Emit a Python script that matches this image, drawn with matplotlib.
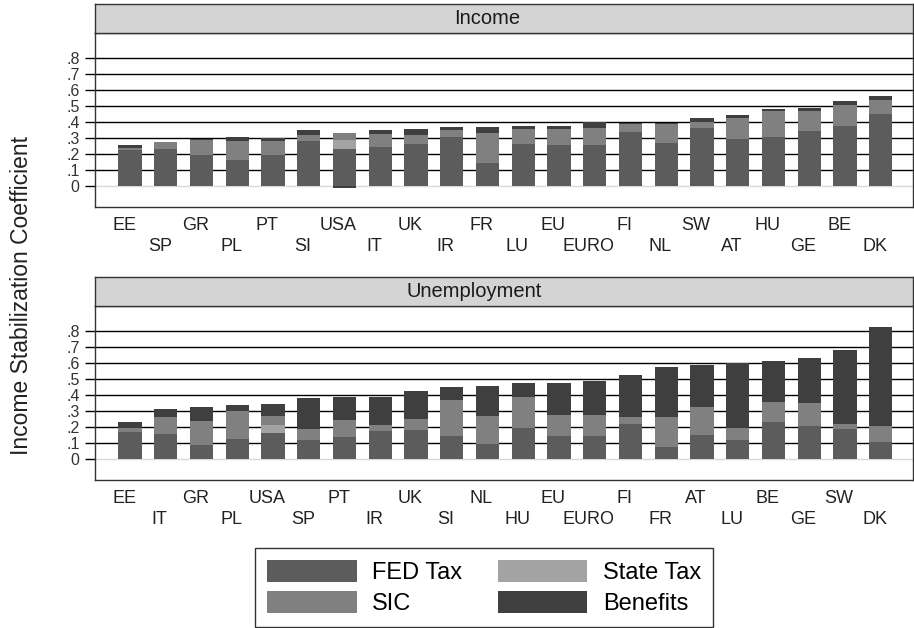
import numpy as np
import matplotlib
matplotlib.use("Agg")
import matplotlib.pyplot as plt
from matplotlib.patches import Patch
from matplotlib.transforms import ScaledTranslation

plt.rcParams['font.family'] = ['Liberation Sans', 'DejaVu Sans']

# income panel
inc_countries = ['EE', 'SP', 'GR', 'PL', 'PT', 'SI', 'USA', 'IT', 'UK', 'IR', 'FR',
                 'LU', 'EU', 'EURO', 'FI', 'NL', 'SW', 'AT', 'HU', 'GE', 'BE', 'DK']
inc_fed = [0.225, 0.231, 0.195, 0.160, 0.195, 0.281, 0.231, 0.245, 0.262, 0.306, 0.146,
           0.262, 0.254, 0.254, 0.335, 0.270, 0.362, 0.291, 0.306, 0.347, 0.376, 0.449]
inc_state = [0, 0, 0, 0, 0, 0, 0.056, 0, 0, 0, 0,
             0, 0, 0, 0, 0, 0, 0, 0, 0, 0, 0]
inc_sic = [0.015, 0.046, 0.091, 0.123, 0.087, 0.037, 0.042, 0.081, 0.056, 0.044, 0.183,
           0.096, 0.104, 0.110, 0.054, 0.119, 0.037, 0.137, 0.162, 0.119, 0.131, 0.087]
inc_ben = [0.014, 0.0, 0.010, 0.021, 0.021, 0.031, -0.014, 0.023, 0.037, 0.021, 0.042,
           0.019, 0.019, 0.033, 0.006, 0.006, 0.023, 0.015, 0.012, 0.021, 0.023, 0.029]

# unemployment panel
une_countries = ['EE', 'IT', 'GR', 'PL', 'USA', 'SP', 'PT', 'IR', 'UK', 'SI', 'NL',
                 'HU', 'EU', 'EURO', 'FI', 'FR', 'AT', 'LU', 'BE', 'GE', 'SW', 'DK']
une_fed = [0.168, 0.155, 0.089, 0.126, 0.166, 0.118, 0.141, 0.178, 0.182, 0.145, 0.095,
           0.195, 0.145, 0.145, 0.218, 0.073, 0.153, 0.118, 0.232, 0.205, 0.191, 0.110]
une_state = [0, 0, 0, 0, 0.048, 0, 0, 0, 0, 0, 0,
             0, 0, 0, 0, 0, 0, 0, 0, 0, 0, 0]
une_sic = [0.025, 0.108, 0.151, 0.176, 0.052, 0.073, 0.100, 0.035, 0.066, 0.226, 0.174,
           0.195, 0.131, 0.131, 0.044, 0.189, 0.174, 0.079, 0.124, 0.143, 0.029, 0.097]
une_ben = [0.041, 0.050, 0.087, 0.033, 0.077, 0.189, 0.145, 0.172, 0.174, 0.081, 0.187,
           0.083, 0.197, 0.211, 0.261, 0.313, 0.259, 0.402, 0.259, 0.284, 0.462, 0.618]

series_names = ['FED Tax', 'State Tax', 'SIC', 'Benefits']
colors = ['#5c5c5c', '#a3a3a3', '#808080', '#3f3f3f']
yticks = [0, 0.1, 0.2, 0.3, 0.4, 0.5, 0.6, 0.7, 0.8]
ytick_labels = ['0', '.1', '.2', '.3', '.4', '.5', '.6', '.7', '.8']

fig = plt.figure(figsize=(9.14, 6.28), dpi=100)


def panel(plot_rect, strip_rect, title, title_x, countries, parts):
    ax = fig.add_axes(plot_rect)
    x = np.arange(len(countries))
    pos = np.zeros(len(countries))
    neg = np.zeros(len(countries))
    for vals, c in zip(parts, colors):
        vals = np.array(vals, dtype=float)
        base = np.where(vals >= 0, pos, neg)
        ax.bar(x, vals, bottom=base, width=0.65, color=c, linewidth=0, zorder=2)
        pos = pos + np.clip(vals, 0, None)
        neg = neg + np.clip(vals, None, 0)
    for t in yticks:
        ax.axhline(t, color='#d9d9d9' if t == 0 else 'black', lw=1.0, zorder=1)
    ax.set_xlim(-0.98, len(countries) - 0.1)
    ax.set_ylim(-0.13, 0.955)
    ax.set_yticks(yticks)
    ax.set_yticklabels(ytick_labels, fontsize=11.5, color='#333333')
    ax.tick_params(axis='y', length=7, width=1, color='black', pad=4)

    # staggered country labels: even positions on the upper row, odd on the lower
    ax.set_xticks(x[::2])
    ax.set_xticklabels(countries[::2], fontsize=13, color='#222222')
    ax.set_xticks(x[1::2], minor=True)
    ax.set_xticklabels(countries[1::2], minor=True, fontsize=13, color='#222222')
    ax.tick_params(axis='x', which='major', length=0, pad=7.5)
    ax.tick_params(axis='x', which='minor', length=0, pad=22.5)
    shift = ScaledTranslation(-0.06, 0, fig.dpi_scale_trans)
    for lab in ax.get_xticklabels() + ax.get_xticklabels(minor=True):
        lab.set_transform(lab.get_transform() + shift)
    for s in ax.spines.values():
        s.set_color('#333333')
        s.set_linewidth(1.0)

    sax = fig.add_axes(strip_rect)
    sax.set_facecolor('#d4d4d4')
    sax.set_xticks([])
    sax.set_yticks([])
    for s in sax.spines.values():
        s.set_color('#333333')
        s.set_linewidth(1.0)
    sax.text(title_x, 0.5, title, ha='center', va='center', fontsize=14.5,
             color='#1a1a1a', transform=sax.transAxes)
    return ax


panel([0.1039, 0.6704, 0.895, 0.277], [0.1039, 0.9475, 0.895, 0.0462], 'Income', 0.48,
      inc_countries, [inc_fed, inc_state, inc_sic, inc_ben])
panel([0.1039, 0.2357, 0.895, 0.277], [0.1039, 0.5127, 0.895, 0.0462], 'Unemployment', 0.463,
      une_countries, [une_fed, une_state, une_sic, une_ben])

fig.text(0.024, 0.53, 'Income Stabilization Coefficient', rotation=90,
         ha='center', va='center', fontsize=16.5, color='#222222')

order = [0, 2, 1, 3]
handles = [Patch(facecolor=colors[i], edgecolor='none', label=series_names[i]) for i in order]
leg = fig.legend(handles=handles, ncol=2, loc='center', bbox_to_anchor=(0.5295, 0.0645),
                 fontsize=17, frameon=True, fancybox=False, edgecolor='black',
                 handlelength=3.8, handleheight=1.05, columnspacing=1.5,
                 handletextpad=0.65, labelspacing=0.3, borderpad=0.5)
leg.get_frame().set_linewidth(1.0)

fig.savefig('out.png', dpi=100)
